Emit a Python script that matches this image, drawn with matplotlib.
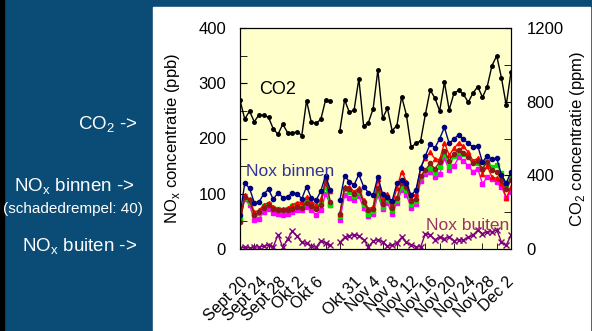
import numpy as np
import matplotlib
matplotlib.use("Agg")
import matplotlib.pyplot as plt
from matplotlib.patches import Rectangle
from matplotlib.ticker import MultipleLocator, FixedLocator
from matplotlib.transforms import ScaledTranslation

plt.rcParams['font.family'] = ['Liberation Sans', 'DejaVu Sans']

nan = np.nan

# category index 0..57, index 20 is the gap between the two periods
tick_pos = [0, 4, 8, 12, 16, 24, 28, 32, 36, 40, 44, 48, 52, 56]
tick_labels = ["Sept 20", "Sept 24", "Sept 28", "Okt 2", "Okt 6",
               "Okt 31", "Nov 4", "Nov 8", "Nov 12", "Nov 16", "Nov 20",
               "Nov 24", "Nov 28", "Dec 2"]

# CO2 in ppm (right axis)
co2 = [809, 705, 749, 691, 729, 725, 715, 652, 623, 678, 632, 628, 638, 616,
       806, 688, 682, 704, 809, 802, nan,
       643, 810, 742, 755, 924, 668, 686, 761, 973, 710, 764, 643, 670, 828,
       728, 552, 574, 588, 732, 864, 819, 750, 906, 755, 846, 861, 840, 797,
       846, 882, 824, 882, 996, 1049, 928, 781, 961]

# NOx binnen, several sensors (ppb)
nox_navy = [61, 119, 110, 84, 85, 100, 108, 90, 102, 93, 94, 102, 100, 91,
            113, 92, 88, 105, 133, 107, nan,
            88, 132, 122, 116, 135, 113, 102, 97, 131, 99, 94, 87, 119, 125,
            119, 97, 107, 146, 169, 190, 183, 200, 220, 191, 199, 207, 199,
            191, 185, 187, 157, 169, 162, 164, 134, 119, 140]
nox_red = [50, 97, 90, 67, 70, 80, 84, 76, 73, 73, 74, 80, 84, 85, 94, 85,
           80, 90, 120, 105, nan,
           64, 113, 112, 104, 110, 88, 73, 76, 126, 90, 100, 80, 110, 140,
           122, 92, 100, 148, 165, 175, 163, 162, 192, 170, 182, 192, 186,
           175, 160, 164, 136, 150, 130, 128, 120, 92, 112]
nox_green = [56, 93, 85, 62, 66, 78, 82, 74, 72, 71, 73, 77, 80, 80, 88, 82,
             76, 85, 112, 80, nan,
             60, 108, 104, 96, 103, 82, 64, 68, 103, 76, 90, 70, 89, 113, 106,
             82, 86, 130, 142, 147, 137, 148, 172, 150, 168, 176, 172, 170,
             158, 155, 145, 162, 148, 152, 138, 115, 130]
nox_darkred = [48, 95, 88, 62, 67, 75, 80, 72, 70, 70, 71, 73, 76, 75, 83, 78,
               72, 80, 128, 85, nan,
               63, 111, 108, 100, 107, 85, 70, 72, 110, 82, 95, 75, 93, 120,
               112, 86, 90, 132, 143, 155, 145, 158, 178, 160, 172, 180, 173,
               166, 155, 160, 145, 158, 143, 140, 125, 108, 125]
nox_magenta = [53, 90, 80, 52, 55, 67, 72, 66, 64, 62, 64, 67, 70, 70, 76, 70,
               62, 70, 100, 80, nan,
               52, 98, 93, 88, 96, 74, 60, 64, 98, 72, 84, 63, 84, 106, 98,
               75, 82, 123, 135, 140, 130, 135, 165, 143, 150, 166, 160, 150,
               140, 145, 118, 130, 126, 122, 113, 92, 104]
# NOx buiten (ppb)
nox_buiten = [2, 3, 2, 3, 4, 5, 7, 4, 26, 3, 18, 32, 23, 12, 10, 5, 3, 15,
              11, 7, nan,
              12, 21, 24, 26, 24, 17, 4, 14, 17, 13, 5, 7, 11, 21, 12, 8, 4,
              4, 28, 25, 17, 22, 19, 22, 15, 17, 16, 21, 25, 34, 28, 31, 31,
              35, 12, 7, 25]

x = np.arange(len(co2))

W, H = 592, 331
fig = plt.figure(figsize=(W / 100, H / 100), dpi=100)
fig.patch.set_facecolor('#0b4c76')
fig.add_artist(Rectangle((153 / W, 0), (590 - 153) / W, (H - 7) / H,
                         transform=fig.transFigure, color='white', zorder=0))
fig.add_artist(Rectangle((0, 0), 4 / W, 1, transform=fig.transFigure,
                         color='black', zorder=0))

ax = fig.add_axes([240 / W, 1 - 249 / H, 271 / W, 221 / H])
ax.set_facecolor('#ffffcc')
ax2 = ax.twinx()

ms = 3
ax.plot(x, nox_magenta, color='#ff00ff', marker='s', ms=ms, lw=1)
ax.plot(x, nox_green, color='#00e000', marker='s', ms=ms, lw=1)
ax.plot(x, nox_red, color='#ff0000', marker='^', ms=ms, lw=1)
ax.plot(x, nox_darkred, color='#8b1a1a', marker='o', ms=ms, lw=1)
ax.plot(x, nox_navy, color='#000080', marker='o', ms=ms, lw=1)
ax.plot(x, nox_buiten, color='#800080', marker='x', ms=4, mew=1, lw=1)
ax2.plot(x, co2, color='black', marker='o', ms=2.5, lw=1)

ax.set_xlim(0, 57)
ax.set_ylim(0, 400)
ax2.set_ylim(0, 1200)

ax.yaxis.set_major_locator(MultipleLocator(100))
ax.yaxis.set_minor_locator(MultipleLocator(50))
ax2.yaxis.set_major_locator(MultipleLocator(400))
ax2.yaxis.set_minor_locator(MultipleLocator(200))

ax.set_xticks(tick_pos)
ax.set_xticklabels(tick_labels, rotation=45, ha='right',
                   rotation_mode='anchor')
shift = ScaledTranslation(-2 / 100, 0, fig.dpi_scale_trans)
for lab in ax.get_xticklabels():
    lab.set_transform(lab.get_transform() + shift)
ax.xaxis.set_minor_locator(FixedLocator(list(range(0, 58, 3))))
ax.tick_params(axis='x', which='major', length=0, pad=18, labelsize=11.5)
ax.tick_params(axis='x', which='minor', direction='in', length=4)
ax.tick_params(axis='y', which='both', direction='in', length=5,
               labelsize=12, pad=10)
ax2.tick_params(axis='y', which='both', direction='in', length=5,
                labelsize=12, pad=11)

ax.set_ylabel(r'NO$_\mathregular{x}$ concentratie (ppb)', fontsize=12,
              labelpad=12)
ax2.set_ylabel(r'CO$_\mathregular{2}$ concentratie (ppm)', fontsize=12,
               labelpad=3)

ax.text(8, 288, 'CO2', ha='center', va='center', fontsize=13)
ax.text(1.2, 141, 'Nox binnen', ha='left', va='center', fontsize=12.5,
        color='#333399')
ax.text(39.2, 42, 'Nox buiten', ha='left', va='center', fontsize=12.5,
        color='#993366')

narrow = ['Liberation Sans Narrow', 'Liberation Sans', 'DejaVu Sans']
fig.text(138 / W, 1 - 125 / H, r'CO$_\mathregular{2}$ ->', ha='right',
         va='center', color='white', fontsize=13.5, family=narrow)
fig.text(134 / W, 1 - 187 / H, r'NO$_\mathregular{x}$ binnen ->', ha='right',
         va='center', color='white', fontsize=13.5, family=narrow)
fig.text(3 / W, 1 - 209 / H, '(schadedrempel: 40)', ha='left',
         va='center', color='white', fontsize=11, family=narrow)
fig.text(137 / W, 1 - 247 / H, r'NO$_\mathregular{x}$ buiten ->', ha='right',
         va='center', color='white', fontsize=13.5, family=narrow)

fig.savefig('out.png', dpi=100, facecolor=fig.get_facecolor())
